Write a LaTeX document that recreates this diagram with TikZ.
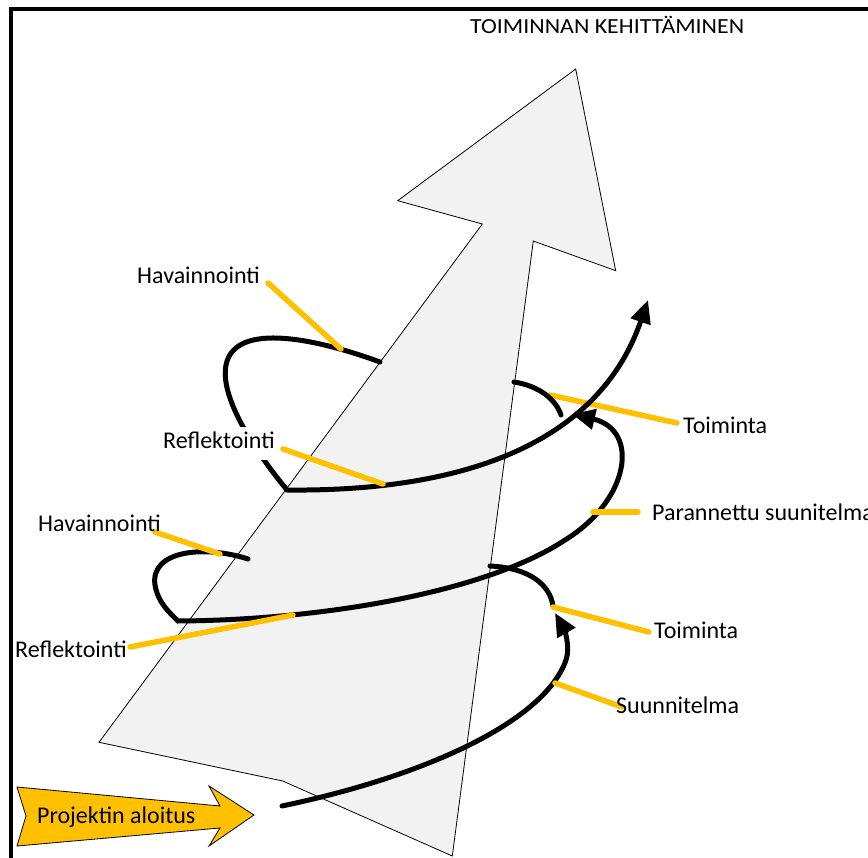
\documentclass[tikz,border=0pt]{standalone}
\usepackage{fontspec}
\setmainfont{Carlito}
\usetikzlibrary{arrows.meta}
\definecolor{shaftgray}{HTML}{F2F2F2}
\definecolor{leaderyellow}{HTML}{FFC000}

\begin{document}
\begin{tikzpicture}[x=1pt,y=-1pt,
  spiral/.style={line width=5pt, line cap=round, line join=miter},
  spiraltip/.style={-{Triangle[length=23pt,width=20pt]}},
  leader/.style={draw=leaderyellow, line width=5.5pt, line cap=round},
  lbl/.style={inner sep=0pt, anchor=base west, font=\fontsize{24}{28}\selectfont},
]
\useasboundingbox (0,0) rectangle (868,858);

% outer frame (only the left and top edges fall inside the page)
\draw[line width=4pt] (10.7,880) -- (10.7,8.8) -- (890,8.8);

% title
\node[inner sep=0pt, anchor=base west, font=\fontsize{21.5}{25}\selectfont]
  (title) at (470,34) {\scalebox{1.11}[1]{TOIMINNAN KEHITTÄMINEN}};

% the broad grey arrow of development
\filldraw[fill=shaftgray, draw=black, line width=0.8pt]
  (575.7,69) -- (615.7,270.7) -- (533.3,241) -- (452.3,856) -- (282.7,781)
  -- (99,742.3) -- (482.3,224) -- (397.7,200.7) -- cycle;

% leader lines end points
\coordinate (havA1) at (268,283);  \coordinate (havA2) at (341,349);
\coordinate (refA1) at (283,449);  \coordinate (refA2) at (383,484);
\coordinate (havB1) at (155,532);  \coordinate (havB2) at (220,554);
\coordinate (refB1) at (130,647);  \coordinate (refB2) at (293,615);
\coordinate (toiA1) at (550,395);  \coordinate (toiA2) at (677,423);
\coordinate (par1)  at (593,512);  \coordinate (par2)  at (638,512);
\coordinate (toiB1) at (553,607);  \coordinate (toiB2) at (649,632);
\coordinate (suu1)  at (555,683);  \coordinate (suu2)  at (622,707);

% this leader passes under the upper spiral
\draw[leader] (toiA1) -- (toiA2);

% spiral: first round
\coordinate (startS) at (282,806);
\coordinate (tipA) at (555,613);
\draw[spiral, spiraltip] (startS) .. controls (430,775) and (545,720) .. (566,660)
  .. controls (571,646) and (563,627) .. (tipA);
\coordinate (loopB1) at (490,566);
\coordinate (loopB2) at (553,606);
\draw[spiral] (loopB1) .. controls (530,568) and (550,585) .. (loopB2);

% spiral: second round
\coordinate (obsB) at (248,559);
\coordinate (cornerB) at (178,621);
\coordinate (tipB) at (572,414);
\draw[spiral, spiraltip] (obsB) .. controls (205,545) and (150,550) .. (155,585)
  .. controls (158,603) and (170,613) .. (cornerB)
  .. controls (330,620) and (490,590) .. (565,540)
  .. controls (630,500) and (640,430) .. (tipB);
\coordinate (loopA1) at (514,382);
\coordinate (loopA2) at (561,415);
\draw[spiral] (loopA1) .. controls (540,386) and (556,400) .. (loopA2);

% spiral: third round
\coordinate (obsA) at (380,362);
\coordinate (cornerA) at (287,490);
\coordinate (tipC) at (648,300);
\draw[spiral, spiraltip] (obsA) .. controls (320,340) and (235,320) .. (226,365)
  .. controls (220,395) and (250,445) .. (cornerA)
  .. controls (470,492) and (600,440) .. (tipC);

% remaining leader lines
\draw[leader] (havA1) -- (havA2);
\draw[leader] (refA1) -- (refA2);
\draw[leader] (havB1) -- (havB2);
\draw[leader] (refB1) -- (refB2);
\draw[leader] (par1) -- (par2);
\draw[leader] (toiB1) -- (toiB2);
\draw[leader] (suu1) -- (suu2);

% labels
\node[lbl] (lhavA) at (137,284) {Havainnointi};
\node[lbl, fill=white, text height=22pt, text depth=11pt] (lrefA) at (163,449) {Reflektointi};
\node[lbl] (lhavB) at (38,532) {Havainnointi};
\node[lbl] (lrefB) at (15,657) {Reflektointi};
\node[lbl] (ltoiA) at (683,434) {Toiminta};
\node[lbl] (lpar)  at (652,521) {Parannettu suunitelma};
\node[lbl] (ltoiB) at (654,638) {Toiminta};
\node[lbl] (lsuu)  at (616,713) {Suunnitelma};

% start arrow
\filldraw[fill=leaderyellow, draw=black, line width=0.8pt]
  (17,787) -- (220,806) -- (209,786) -- (254,815) -- (209,846) -- (220,828)
  -- (17,846) -- (26,816) -- cycle;
\node[lbl] (lstart) at (37,823) {Projektin aloitus};
\end{tikzpicture}
\end{document}
